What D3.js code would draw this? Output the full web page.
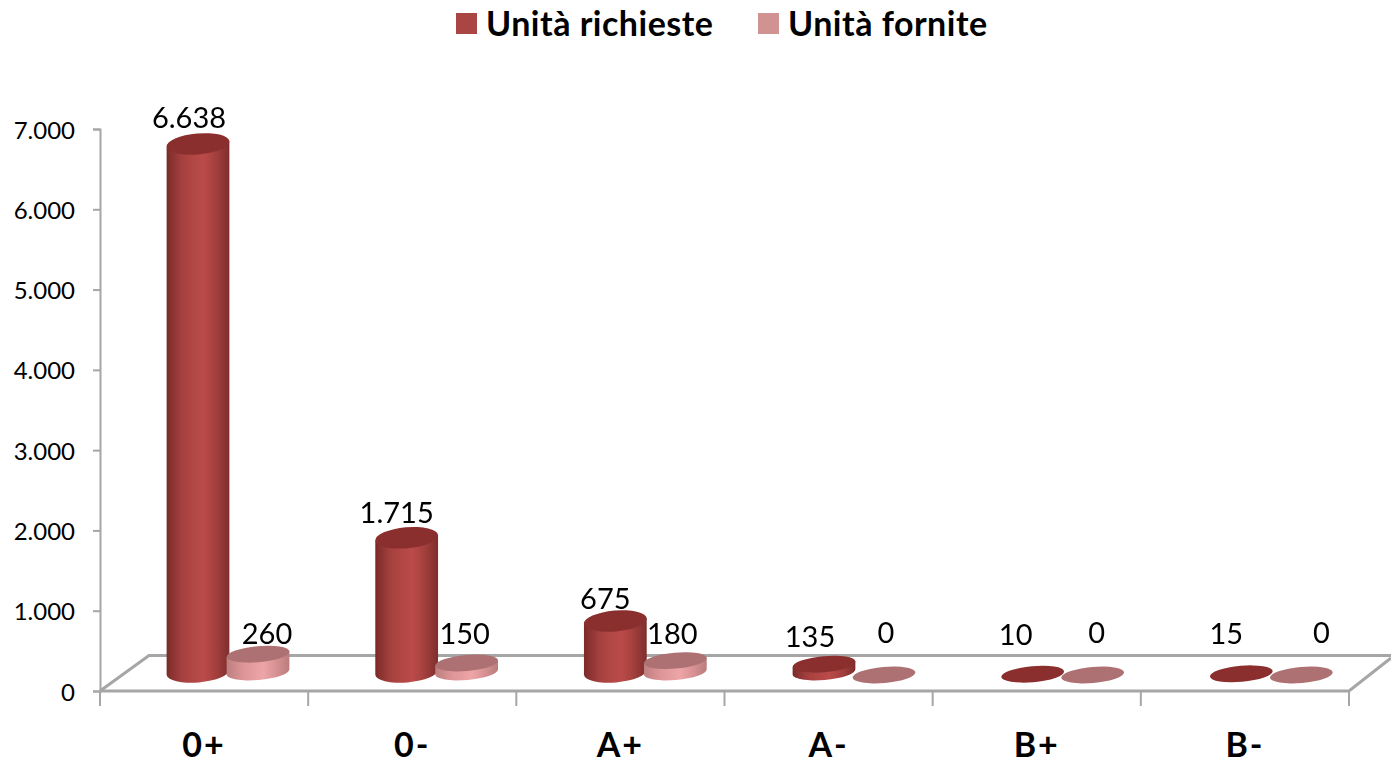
<!DOCTYPE html>
<html>
<head>
<meta charset="utf-8">
<script src="https://cdn.jsdelivr.net/npm/d3@7/dist/d3.min.js"></script>
<style>
    html, body { margin: 0; padding: 0; background: #fff; }
    svg { display: block; }
    text { font-family: Lato, "Open Sans", sans-serif; fill: #000; }
</style>
</head>
<body>
<svg id="chart" width="1391" height="765"></svg>
<script>
const categories = ["0+", "0-", "A+", "A-", "B+", "B-"];
const seriesNames = ["Unità richieste", "Unità fornite"];
const richieste = [6638, 1715, 675, 135, 10, 15];
const fornite = [260, 150, 180, 0, 0, 0];
const yTicks = [0, 1000, 2000, 3000, 4000, 5000, 6000, 7000];

const Colors = {
    grid: "#a6a6a6",
    legend: ["#a94644", "#d09392"],
    side: [
        ["#7b2a29", "#a6413f", "#bb4b49", "#a84240", "#7f2d2c"],
        ["#bd7f7f", "#dc9496", "#eda5a8", "#dc9597", "#b97c7c"]
    ],
    top: ["#8b2f2e", "#ad7173"]
};

const svg = d3.select("#chart");
const itFormat = d3.formatLocale({ decimal: ",", thousands: ".", grouping: [3], currency: ["", "€"] }).format(",d");

const x = d3.scaleBand().domain(categories).range([100, 1349]);
// the bars run on the floor's slanted plane, so their step is a touch wider than the axis
const xBar = d3.scaleBand().domain(categories).range([100, 1352]);
const xSeries = d3.scaleBand().domain(seriesNames).range([68, 188]);
const y = d3.scaleLinear().domain([0, 7000]).range([691, 129]);
const yBar = d3.scaleLinear().domain([0, 7000]).range([675, 115]);

// gradients for the cylinder sides
const defs = svg.append("defs");
seriesNames.forEach((name, s) => {
    const grad = defs.append("linearGradient").attr("id", `side-${s}`);
    Colors.side[s].forEach((c, i, all) => {
        grad.append("stop").attr("offset", i === 2 ? 0.58 : i / (all.length - 1)).attr("stop-color", c);
    });
});
defs.append("filter").attr("id", "soft")
    .append("feGaussianBlur").attr("stdDeviation", 0.5);

// floor
const floor = svg.append("g")
    .attr("fill", "none")
    .attr("stroke", Colors.grid)
    .attr("stroke-width", 3);
floor.append("path").attr("d", "M100,691L149,655.5L1391,655.5");
floor.append("path").attr("d", "M100,691L1349,691L1391,658");

// y axis
const yAxisGroup = svg.append("g")
    .attr("transform", "translate(100,0)")
    .call(d3.axisLeft(y).tickValues(yTicks).tickSize(7).tickPadding(18).tickFormat(itFormat));
yAxisGroup.selectAll("path, line").attr("stroke", Colors.grid).attr("stroke-width", 2);
yAxisGroup.selectAll("text")
    .style("font-size", "24px")
    .attr("dy", "0.38em")
    .attr("fill", "#000");

// x axis ticks and labels
const xAxisGroup = svg.append("g")
    .attr("transform", "translate(0,691)")
    .call(d3.axisBottom(x).tickSize(0).tickPadding(42));
xAxisGroup.select(".domain").remove();
xAxisGroup.selectAll("text")
    .style("font-size", "34px")
    .style("font-weight", "700")
    .style("letter-spacing", "2px")
    .attr("fill", "#000");
svg.append("g").selectAll("line")
    .data(x.domain().map(d => x(d)).concat(x.range()[1]))
    .enter()
    .append("line")
    .attr("x1", d => d)
    .attr("x2", d => d)
    .attr("y1", 691)
    .attr("y2", 706)
    .attr("stroke", Colors.grid)
    .attr("stroke-width", 2);

// cylinders
const rx = 31.5, tilt = -5;
const dx = rx * Math.cos(tilt * Math.PI / 180);
const dy = rx * Math.sin(tilt * Math.PI / 180);
const ryFor = v => v >= 300 ? 10.5 : 8;

function cylinderSide(cx, top, base, ry) {
    return `M${cx - dx},${top - dy}L${cx - dx},${base - dy}` +
        `A${rx},${ry} ${tilt} 0 0 ${cx + dx},${base + dy}` +
        `L${cx + dx},${top + dy}Z`;
}

const seriesValues = [richieste, fornite];
const bars = svg.append("g").attr("filter", "url(#soft)");
seriesValues.forEach((values, s) => {
    const g = bars.append("g");
    categories.forEach((cat, i) => {
        const cx = xBar(cat) + xSeries(seriesNames[s]) + xSeries.bandwidth() / 2;
        const base = yBar(0) - 3;
        const top = yBar(values[i]);
        const ry = ryFor(values[i]);
        if (values[i] > 100) {
            g.append("path")
                .attr("d", cylinderSide(cx, top, base, ry))
                .attr("fill", `url(#side-${s})`);
        }
        g.append("ellipse")
            .attr("rx", rx)
            .attr("ry", ry)
            .attr("fill", Colors.top[s])
            .attr("transform", `translate(${cx},${top}) rotate(${tilt})`);
    });
});

// value labels sit above each bar; the small ones are nudged clear of their neighbour
const labelNudge = {
    "0:0": [-9, -27], "0:1": [-10, -26], "0:2": [-10, -24], "0:3": [-14, -29], "0:4": [-17, -41], "0:5": [-15, -41],
    "1:0": [9, -22], "1:1": [-2, -31], "1:2": [-3, -28], "1:3": [2, -44], "1:4": [4, -44], "1:5": [20, -44]
};
seriesValues.forEach((values, s) => {
    svg.append("g").selectAll("text")
        .data(values)
        .enter()
        .append("text")
        .attr("x", (d, i) => xBar(categories[i]) + xSeries(seriesNames[s]) + xSeries.bandwidth() / 2 + labelNudge[`${s}:${i}`][0])
        .attr("y", (d, i) => yBar(d) + labelNudge[`${s}:${i}`][1])
        .attr("text-anchor", "middle")
        .attr("dominant-baseline", "central")
        .style("font-size", "29px")
        .text(d => itFormat(d));
});

// legend
const legendX = d3.scaleOrdinal().domain(seriesNames).range([456, 758]);
const legend = svg.append("g").selectAll("g")
    .data(seriesNames)
    .enter()
    .append("g")
    .attr("transform", d => `translate(${legendX(d)},13)`);
legend.append("rect")
    .attr("width", 21)
    .attr("height", 21)
    .attr("fill", (d, i) => Colors.legend[i]);
legend.append("text")
    .attr("x", 30)
    .attr("y", 23)
    .style("font-size", "34px")
    .style("font-weight", "700")
    .style("letter-spacing", "0.5px")
    .text(d => d);
</script>
</body>
</html>
